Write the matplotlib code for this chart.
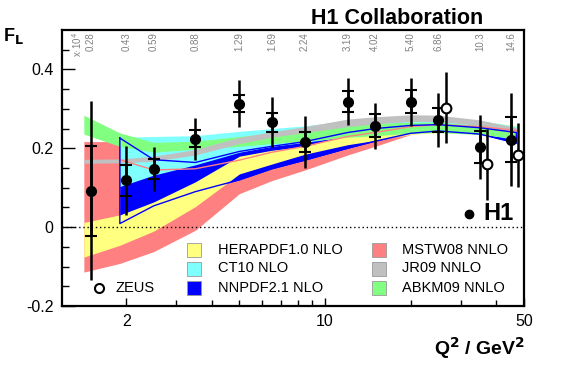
import matplotlib
matplotlib.use("Agg")
import matplotlib.pyplot as plt
import numpy as np

plt.rcParams['font.family'] = ['Liberation Sans', 'DejaVu Sans']

# ---------------- data ----------------
h1_q2 = [1.5, 2.0, 2.5, 3.5, 5.0, 6.5, 8.5, 12, 15, 20, 25, 35, 45]
h1_fl = [0.092, 0.119, 0.148, 0.224, 0.313, 0.266, 0.216, 0.318, 0.257, 0.318, 0.272, 0.203, 0.222]
h1_stat = [0.114, 0.039, 0.025, 0.022, 0.022, 0.024, 0.026, 0.027, 0.029, 0.029, 0.030, 0.040, 0.057]
h1_tot = [0.227, 0.087, 0.056, 0.054, 0.060, 0.064, 0.067, 0.060, 0.058, 0.061, 0.069, 0.082, 0.118]
x_labels = ['0.28', '0.43', '0.59', '0.88', '1.29', '1.69', '2.24', '3.19', '4.02', '5.40', '6.86', '10.3', '14.6']

zeus_q2 = [26.5, 37.1, 47.7]
zeus_fl = [0.303, 0.160, 0.183]
zeus_err = [0.090, 0.090, 0.080]

band_q2 = [1.42, 1.9, 2.5, 3.5, 5.0, 6.5, 8.5, 12, 15, 20, 25, 35, 47]

mstw_lo = [-0.114, -0.092, -0.062, -0.008, 0.085, 0.118, 0.145, 0.183, 0.205, 0.235, 0.245, 0.240, 0.220]
mstw_hi = [0.217, 0.217, 0.145, 0.148, 0.170, 0.190, 0.205, 0.230, 0.240, 0.255, 0.260, 0.255, 0.245]
mstw_line = [None, 0.171, 0.145, 0.148, 0.170, 0.190, 0.205, 0.230, 0.240, 0.255, 0.260, 0.255, 0.245]

hera_lo = [-0.076, -0.046, -0.010, 0.052, 0.135, 0.160, 0.185, 0.209, 0.220, 0.235, 0.240, 0.238, 0.228]
hera_hi = [0.012, 0.031, 0.064, 0.115, 0.180, 0.195, 0.205, 0.234, 0.250, 0.265, 0.270, 0.268, 0.258]

ct10_lo = [None, 0.103, 0.132, 0.158, 0.190, 0.205, 0.215, 0.230, 0.235, 0.242, 0.243, 0.237, 0.222]
ct10_hi = [None, 0.228, 0.230, 0.232, 0.243, 0.250, 0.257, 0.270, 0.275, 0.278, 0.277, 0.270, 0.256]

nnpdf_lo = [None, 0.009, 0.054, 0.090, 0.120, 0.148, 0.170, 0.200, 0.218, 0.238, 0.244, 0.236, 0.213]
nnpdf_hi = [None, 0.226, 0.171, 0.164, 0.192, 0.205, 0.217, 0.240, 0.250, 0.258, 0.260, 0.252, 0.240]

jr09_lo = [0.162, 0.163, 0.167, 0.183, 0.212, 0.228, 0.240, 0.255, 0.262, 0.268, 0.268, 0.258, 0.240]
jr09_hi = [0.172, 0.173, 0.180, 0.197, 0.228, 0.242, 0.255, 0.274, 0.280, 0.285, 0.284, 0.272, 0.252]

abkm_lo = [0.236, 0.205, 0.190, 0.198, 0.205, 0.212, 0.218, 0.228, 0.232, 0.238, 0.240, 0.235, 0.225]
abkm_hi = [0.284, 0.239, 0.215, 0.218, 0.230, 0.238, 0.246, 0.258, 0.263, 0.266, 0.266, 0.258, 0.248]

legend_names = ['HERAPDF1.0 NLO', 'CT10 NLO', 'NNPDF2.1 NLO', 'MSTW08 NNLO', 'JR09 NNLO', 'ABKM09 NNLO']
legend_colors = ['#ffff80', '#80ffff', '#0000ff', '#ff8080', '#c0c0c0', '#80ff80']

# ---------------- figure ----------------
W, H = 567, 369
fig = plt.figure(figsize=(W / 100, H / 100), dpi=100)
ax = fig.add_axes([62 / W, 1 - 306 / H, (524 - 62) / W, (306 - 30) / H])
ax.set_xscale('log')
ax.set_xlim(1.19, 50)
ax.set_ylim(-0.2, 0.5)


def valid(lo, hi):
    q = [b for b, l in zip(band_q2, lo) if l is not None]
    l = [v for v in lo if v is not None]
    h = [v for v in hi if v is not None]
    return q, l, h


def band(lo, hi, color, z):
    q, l, h = valid(lo, hi)
    ax.fill_between(q, l, h, color=color, lw=0, zorder=z)


band(mstw_lo, mstw_hi, legend_colors[3], 1)
band(nnpdf_lo, nnpdf_hi, legend_colors[2], 2)
band(hera_lo, hera_hi, legend_colors[0], 3)
band(ct10_lo, ct10_hi, legend_colors[1], 4)
band(abkm_lo, abkm_hi, legend_colors[5], 5)
band(jr09_lo, jr09_hi, legend_colors[4], 6)

# MSTW upper edge line
q, v, _ = valid(mstw_line, mstw_line)
ax.plot(q, v, color='#ff8080', lw=1.0, zorder=7)

# NNPDF outline
q, lo, hi = valid(nnpdf_lo, nnpdf_hi)
ax.plot(q + q[::-1] + [q[0]], hi + lo[::-1] + [hi[0]], color='#0000ff', lw=1.0, zorder=8)

# zero line
ax.axhline(0, color='black', lw=1.0, ls=(0, (1, 2)), zorder=9)

# H1 data
ax.errorbar(h1_q2, h1_fl, yerr=h1_tot, fmt='none', ecolor='black', elinewidth=1.8, capsize=0, zorder=10)
ax.errorbar(h1_q2, h1_fl, yerr=h1_stat, fmt='none', ecolor='black', elinewidth=1.8, capsize=4, capthick=1.5, zorder=10)
ax.plot(h1_q2, h1_fl, 'o', color='black', ms=7, zorder=11)

# ZEUS data
ax.errorbar(zeus_q2, zeus_fl, yerr=zeus_err, fmt='none', ecolor='black', elinewidth=1.8, capsize=0, zorder=10)
ax.plot(zeus_q2, zeus_fl, 'o', mfc='white', mec='black', mew=1.5, ms=7, zorder=11)

# x labels at top
for qq, lab in zip(h1_q2, x_labels):
    ax.text(qq, 0.494, lab, rotation=90, ha='center', va='top', fontsize=7, color='#808080', zorder=12)
ax.text(1.34, 0.494, 'x\u00b710$^{4}$', rotation=90, ha='center', va='top', fontsize=7, color='#808080', zorder=12)

# legend (drawn manually in axes-fraction coordinates)
col_x = [(187 - 62) / 462, (372 - 62) / 462]
txt_x = [(218 - 62) / 462, (402 - 62) / 462]
row_y = [(306 - 249.5) / 276, (306 - 268.5) / 276, (306 - 287.5) / 276]
sq_w, sq_h = 14 / 462, 14 / 276
for i, (name, col) in enumerate(zip(legend_names, legend_colors)):
    c, r = divmod(i, 3)
    ax.add_patch(plt.Rectangle((col_x[c], row_y[r] - sq_h / 2), sq_w, sq_h, transform=ax.transAxes,
                               facecolor=col, edgecolor='#999999', lw=0.6, zorder=12))
    ax.text(txt_x[c], row_y[r], name, transform=ax.transAxes, ha='left', va='center', fontsize=10.5, zorder=12)

ax.plot([(99 - 62) / 462], [row_y[2]], 'o', mfc='white', mec='black', mew=1.5, ms=6.5, transform=ax.transAxes, zorder=12)
ax.text((115 - 62) / 462, row_y[2], 'ZEUS', transform=ax.transAxes, ha='left', va='center', fontsize=10.5, zorder=12)

ax.plot([(469 - 62) / 462], [(306 - 214) / 276], 'o', color='black', ms=6, transform=ax.transAxes, zorder=12)
ax.text((483 - 62) / 462, (306 - 214) / 276, 'H1', transform=ax.transAxes, ha='left', va='center',
        fontsize=17, fontweight='bold', zorder=12)

# axes styling
for s in ax.spines.values():
    s.set_linewidth(1.6)
ax.set_xticks([2, 10, 50])
ax.set_xticklabels(['2', '10', '50'])
ax.set_xticks([3, 4, 5, 6, 7, 8, 9, 20, 30, 40], minor=True)
ax.xaxis.set_minor_formatter(matplotlib.ticker.NullFormatter())
ax.set_yticks([-0.2, 0, 0.2, 0.4])
ax.set_yticklabels(['-0.2', '0', '0.2', '0.4'])
ax.set_yticks(np.arange(-0.15, 0.5, 0.05), minor=True)
ax.tick_params(axis='both', which='both', direction='in', top=False, right=False, labelsize=11.5)
ax.tick_params(axis='x', which='major', length=6, width=1, pad=6)
ax.tick_params(axis='x', which='minor', length=4, width=1)
ax.tick_params(axis='y', which='major', length=9, width=1, pad=6)
ax.tick_params(axis='y', which='minor', length=5, width=1)

fig.text(483 / W, 1 - 24 / H, 'H1 Collaboration', ha='right', va='baseline', fontsize=15.5, fontweight='bold')
fig.text(3 / W, 1 - 41 / H, 'F$_{\\mathbf{L}}$', ha='left', va='baseline', fontsize=13, fontweight='bold')
fig.text(525 / W, 1 - 355 / H, 'Q$^{\\mathbf{2}}$ / GeV$^{\\mathbf{2}}$', ha='right', va='baseline', fontsize=14,
         fontweight='bold')

fig.savefig('out.png', dpi=100)
